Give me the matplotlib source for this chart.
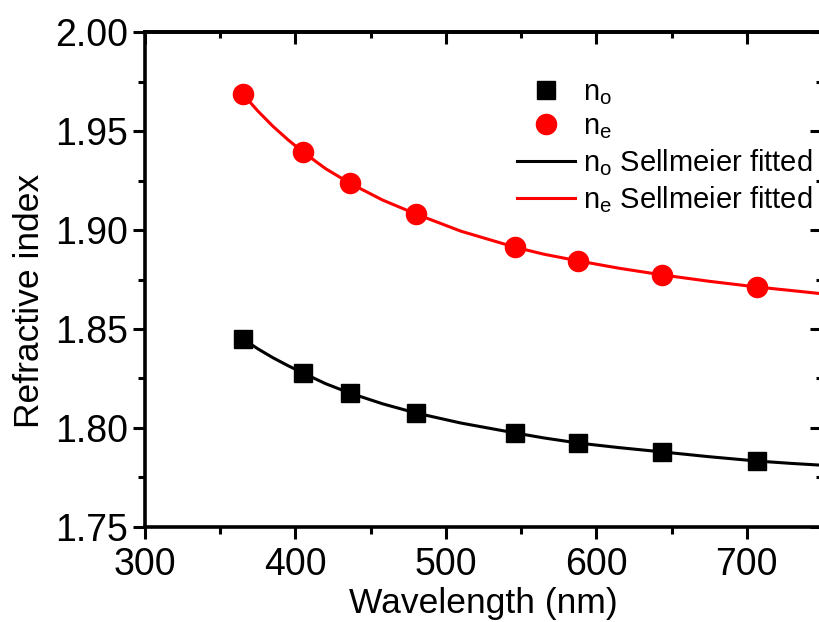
import matplotlib
matplotlib.use('Agg')
from matplotlib import pyplot as plt
from matplotlib.ticker import MultipleLocator

plt.rcParams['font.family'] = ['Liberation Sans', 'DejaVu Sans']
plt.rcParams['mathtext.fontset'] = 'custom'
plt.rcParams['mathtext.rm'] = 'Liberation Sans'

# measured points
wavelength = [365, 405, 436, 480, 546, 587.6, 643.8, 706.5]
n_o = [1.8450, 1.8278, 1.8177, 1.8076, 1.7975, 1.7924, 1.7879, 1.7833]
n_e = [1.9687, 1.9394, 1.9237, 1.9081, 1.8914, 1.8844, 1.8773, 1.8712]

# Sellmeier fitted curves
fit_wl = [365, 375, 385, 395, 405, 420, 436, 458, 480, 510, 546, 565, 588, 615, 644, 675, 707, 730, 750]
fit_no = [1.8450, 1.8400, 1.8355, 1.8315, 1.8278, 1.8224, 1.8177, 1.8122, 1.8076, 1.8025,
          1.7975, 1.7950, 1.7924, 1.7901, 1.7879, 1.7855, 1.7833, 1.7821, 1.7812]
fit_ne = [1.9687, 1.9601, 1.9524, 1.9456, 1.9394, 1.9310, 1.9237, 1.9151, 1.9081, 1.8994,
          1.8913, 1.8878, 1.8844, 1.8807, 1.8773, 1.8741, 1.8712, 1.8694, 1.8678]

fig = plt.figure(figsize=(8.2, 6.22), dpi=100)
ax = fig.add_axes([145/820, 95/622, 677/820, 495/622])

ax.plot(fit_wl, fit_no, color='black', lw=2.2, label='n$_\\mathregular{o}$ Sellmeier fitted', zorder=2)
ax.plot(fit_wl, fit_ne, color='red', lw=2.2, label='n$_\\mathregular{e}$ Sellmeier fitted', zorder=2)
ax.plot(wavelength, n_o, 's', color='black', ms=13, ls='none', label='n$_\\mathregular{o}$', zorder=3)
ax.plot(wavelength, n_e, 'o', color='red', ms=14.5, ls='none', label='n$_\\mathregular{e}$', zorder=3)

ax.set_xlim(300, 750)
ax.set_ylim(1.75, 2.00)
ax.xaxis.set_major_locator(MultipleLocator(100))
ax.xaxis.set_minor_locator(MultipleLocator(50))
ax.yaxis.set_major_locator(MultipleLocator(0.05))
ax.yaxis.set_minor_locator(MultipleLocator(0.025))
ax.yaxis.set_major_formatter(plt.FormatStrFormatter('%.2f'))

for sp in ax.spines.values():
    sp.set_linewidth(2.6)
ax.tick_params(which='both', direction='out', width=2.2, labelsize=27)
ax.tick_params(which='major', length=8.5, pad=4)
ax.tick_params(which='minor', length=5)
ax.tick_params(axis='x', which='major', pad=6)

# inward ticks on top and right
for side in ['top', 'right']:
    twin = ax.secondary_xaxis('top') if side == 'top' else ax.secondary_yaxis('right')
    twin.tick_params(which='both', direction='in', width=2.2, labelsize=0)
    twin.tick_params(which='major', length=8.5)
    twin.tick_params(which='minor', length=4.5)
    if side == 'top':
        twin.xaxis.set_major_locator(MultipleLocator(100))
        twin.xaxis.set_minor_locator(MultipleLocator(50))
        twin.set_xticklabels([])
    else:
        twin.yaxis.set_major_locator(MultipleLocator(0.05))
        twin.yaxis.set_minor_locator(MultipleLocator(0.025))
        twin.set_yticklabels([])
    twin.spines[side].set_linewidth(2.6)

ax.set_xlabel('Wavelength (nm)', fontsize=25.5, labelpad=3)
ax.set_ylabel('Refractive index', fontsize=25.5, labelpad=6, y=0.457)

h, l = ax.get_legend_handles_labels()
order = [2, 3, 0, 1]
ax.legend([h[i] for i in order], [l[i] for i in order], loc='upper left',
          bbox_to_anchor=(517/820, (622-78)/622), bbox_transform=fig.transFigure,
          frameon=False, fontsize=21, handlelength=2.0, handletextpad=0.28,
          labelspacing=0.2, borderpad=0, borderaxespad=0)

plt.savefig('out.png', dpi=100)
